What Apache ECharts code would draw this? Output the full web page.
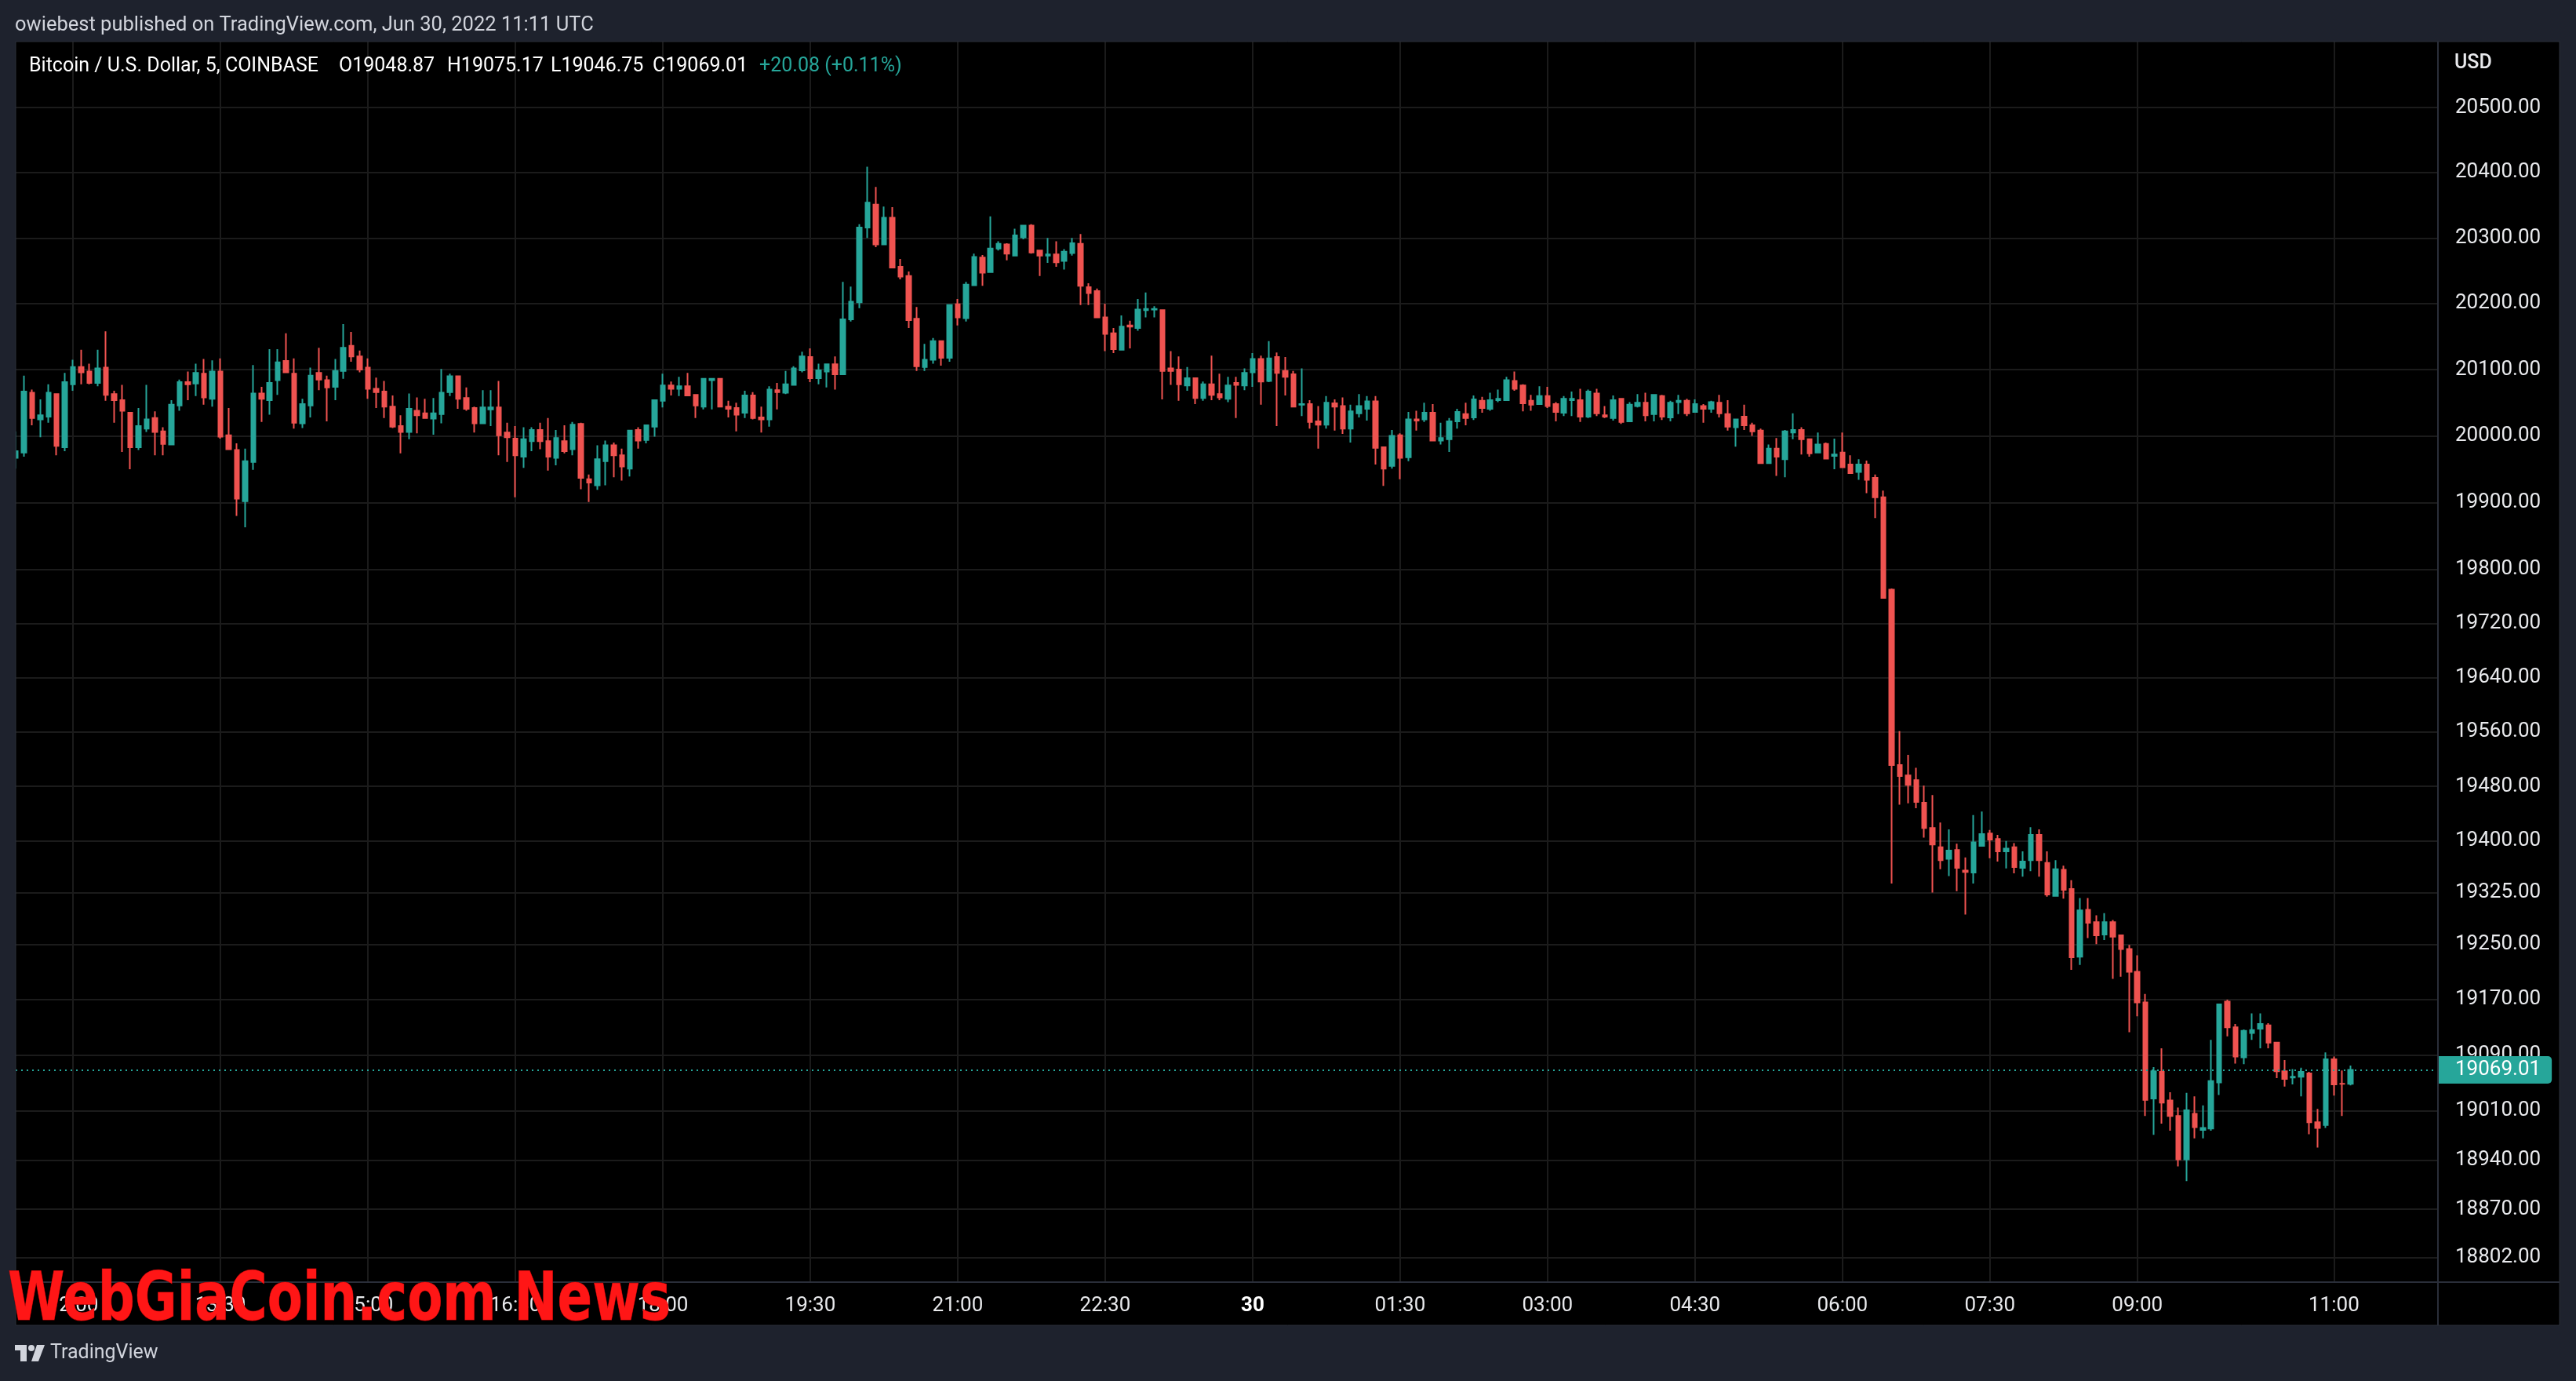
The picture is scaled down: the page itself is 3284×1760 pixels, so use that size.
<!DOCTYPE html>
<html>
<head>
<meta charset="utf-8">
<script src="https://cdn.jsdelivr.net/npm/echarts@6/dist/echarts.min.js"></script>
<style>
html,body{margin:0;padding:0;background:#000;}
#chart{width:3284px;height:1760px;}
</style>
</head>
<body>
<div id="chart"></div>
<script>
// BTC/USD 5-minute candles, Coinbase, 29 Jun 2022 11:25 UTC -> 30 Jun 2022 11:10 UTC
const firstCandle = '2022-06-29 11:25';
const candleMinutes = 5;

const opens = [
19967,19975,20065,20025,20029,20063,19983,20078,20104,20097,20080,20103,20063,20054,20035,19983,20011,20027,20007,19987,
20046,20081,20079,20094,20056,20097,20001,19979,19902,19961,20064,20054,20084,20113,20094,20019,20046,20095,20084,20074,
20098,20136,20120,20103,20071,20067,20044,20015,20006,20038,20034,20026,20033,20066,20090,20057,20042,20019,20040,20043,
20005,19996,19969,19992,20009,19992,19967,19992,19980,20018,19935,19926,19962,19986,19971,19951,20009,19994,20014,20053,
20076,20071,20075,20062,20044,20084,20086,20044,20042,20035,20061,20028,20025,20069,20065,20077,20099,20119,20087,20097,
20108,20093,20176,20202,20316,20351,20290,20331,20256,20242,20177,20104,20115,20143,20118,20199,20178,20228,20270,20248,
20284,20290,20273,20301,20319,20281,20273,20275,20265,20277,20291,20225,20219,20179,20155,20130,20167,20163,20190,20191,
20190,20102,20100,20076,20087,20057,20078,20063,20056,20080,20076,20096,20116,20083,20119,20098,20093,20047,20048,20022,
20017,20049,20045,20011,20034,20041,20052,19983,19955,20001,19968,20025,20025,20035,19993,19995,20022,20033,20028,20053,
20041,20054,20054,20083,20076,20053,20048,20060,20048,20035,20054,20054,20029,20064,20031,20027,20056,20022,20045,20050,
20033,20060,20028,20051,20053,20036,20045,20041,20050,20033,20013,20029,20016,20008,19959,19981,19965,20005,20009,19995,
19975,19988,19970,19975,19957,19946,19957,19937,19908,19770,19511,19496,19489,19456,19419,19391,19374,19387,19357,19354,
19393,19411,19403,19385,19391,19361,19372,19409,19368,19320,19358,19330,19232,19300,19282,19264,19282,19263,19243,19210,
19166,19028,19066,19025,19003,18941,19006,18983,18985,19051,19167,19130,19087,19122,19128,19133,19108,19067,19058,19059,
19064,18994,18990,19084,19049,19048.87
];
const highs = [
20007,20091,20070,20055,20078,20064,20095,20115,20130,20109,20130,20158,20068,20077,20035,20042,20077,20037,20013,20054,
20085,20097,20109,20116,20114,20117,20042,19989,19981,20107,20074,20131,20131,20155,20117,20056,20103,20133,20091,20116,
20169,20157,20129,20117,20088,20083,20061,20031,20064,20058,20056,20057,20101,20094,20090,20073,20044,20069,20069,20083,
20020,20015,20013,20013,20020,20027,20009,20016,20021,20020,19942,19986,19993,19990,19981,20008,20013,20017,20054,20094,
20082,20089,20095,20063,20086,20087,20086,20053,20050,20068,20066,20044,20075,20080,20098,20105,20127,20132,20109,20109,
20120,20233,20226,20321,20409,20378,20348,20347,20268,20249,20195,20139,20148,20143,20198,20207,20233,20276,20274,20333,
20295,20292,20314,20320,20321,20282,20300,20295,20283,20300,20306,20231,20223,20200,20163,20182,20174,20207,20217,20196,
20191,20128,20120,20104,20087,20082,20121,20094,20089,20089,20102,20125,20121,20143,20126,20119,20098,20102,20054,20045,
20060,20055,20058,20047,20063,20060,20060,19983,20009,20004,20036,20038,20050,20048,20020,20027,20041,20050,20061,20059,
20065,20070,20089,20097,20078,20062,20075,20074,20051,20060,20067,20071,20070,20071,20045,20061,20056,20051,20063,20065,
20062,20062,20053,20062,20056,20055,20048,20053,20062,20054,20025,20047,20020,20011,19987,19997,20009,20034,20013,19996,
20005,19990,19996,20005,19971,19965,19963,19942,19918,19772,19561,19526,19507,19481,19467,19427,19417,19396,19376,19438,
19443,19416,19409,19400,19397,19385,19420,19417,19385,19372,19364,19343,19317,19317,19292,19295,19285,19263,19249,19234,
19178,19073,19100,19037,19015,19036,19031,19018,19112,19164,19170,19135,19127,19150,19150,19136,19108,19083,19070,19072,
19066,19013,19094,19088,19068,19075.17
];
const lows = [
19951,19969,20016,19998,20020,19971,19977,20068,20078,20078,20075,20053,20020,19976,19950,19979,20006,19971,19971,19987,
20038,20054,20060,20047,20044,19996,19979,19880,19863,19949,20021,20032,20062,20095,20011,20012,20028,20069,20022,20054,
20086,20112,20096,20056,20042,20027,20012,19974,19995,20004,20026,20002,20019,20060,20041,20038,20005,20019,20015,19971,
19961,19908,19952,19977,19980,19948,19956,19974,19971,19920,19901,19919,19926,19938,19933,19939,19981,19989,19999,20043,
20061,20060,20060,20027,20040,20040,20043,20028,20007,20027,20025,20005,20014,20040,20063,20077,20096,20081,20078,20073,
20070,20093,20173,20193,20300,20286,20290,20255,20237,20163,20098,20098,20109,20106,20112,20167,20173,20227,20227,20248,
20281,20266,20273,20298,20276,20242,20262,20256,20252,20273,20198,20198,20179,20128,20125,20129,20132,20159,20179,20179,
20055,20077,20053,20068,20048,20053,20054,20054,20051,20027,20069,20074,20047,20081,20015,20061,20044,20030,20011,19981,
20011,20008,20003,19990,20028,20023,19957,19925,19951,19935,19962,20008,20021,19993,19987,19976,20011,20016,20024,20035,
20038,20051,20054,20068,20037,20038,20047,20042,20022,20030,20030,20021,20027,20030,20027,20023,20018,20022,20043,20022,
20022,20024,20022,20033,20030,20036,20020,20035,20028,20008,19984,20009,20000,19959,19959,19940,19938,19995,19972,19969,
19974,19965,19950,19953,19944,19934,19914,19877,19758,19338,19453,19455,19448,19405,19325,19359,19349,19327,19293,19338,
19393,19375,19370,19360,19353,19348,19356,19348,19319,19320,19316,19213,19220,19259,19250,19256,19200,19203,19123,19146,
19003,18976,18992,18982,18931,18910,18971,18971,18982,19033,19117,19078,19077,19112,19100,19100,19057,19045,19048,19031,
18977,18958,18986,19032,19003,19046.75
];
const closes = [
19977,20067,20027,20031,20065,19985,20081,20104,20096,20080,20102,20062,20054,20038,19983,20015,20025,20006,19988,20047,
20081,20078,20095,20058,20097,19999,19980,19906,19962,20064,20056,20080,20111,20096,20020,20048,20091,20085,20073,20098,
20133,20120,20100,20071,20066,20044,20014,20006,20041,20031,20027,20034,20065,20090,20056,20041,20019,20043,20043,20001,
19998,19971,19995,20009,19992,19969,19997,19977,20017,19937,19930,19965,19986,19971,19954,20008,19993,20016,20054,20076,
20071,20075,20061,20046,20086,20086,20044,20041,20032,20061,20027,20025,20070,20066,20078,20102,20120,20087,20099,20108,
20093,20176,20203,20316,20354,20290,20331,20255,20241,20175,20105,20115,20143,20118,20198,20179,20229,20271,20247,20284,
20291,20276,20304,20319,20278,20273,20275,20263,20279,20292,20227,20216,20179,20154,20131,20165,20165,20191,20192,20192,
20098,20098,20078,20087,20057,20078,20062,20058,20076,20077,20095,20116,20082,20117,20095,20089,20044,20048,20021,20017,
20050,20044,20011,20037,20045,20052,19982,19951,20000,19967,20025,20023,20035,19993,19997,20022,20036,20027,20055,20042,
20054,20056,20084,20071,20049,20047,20060,20045,20036,20056,20056,20029,20067,20034,20029,20054,20021,20047,20050,20031,
20062,20029,20050,20053,20034,20048,20041,20051,20034,20014,20025,20016,20007,19959,19981,19969,20007,20009,19995,19974,
19987,19966,19972,19953,19944,19957,19934,19908,19758,19511,19495,19482,19457,19419,19395,19372,19386,19361,19355,19398,
19410,19402,19385,19389,19362,19370,19409,19372,19322,19359,19329,19231,19299,19281,19263,19282,19261,19243,19210,19166,
19026,19067,19022,19003,18941,19011,18987,18986,19053,19163,19130,19088,19125,19126,19135,19108,19067,19056,19059,19066,
18994,18986,19084,19048,19048.93,19069.01
];

// price-scale tick labels (right axis)
const priceTicks = [20500,20400,20300,20200,20100,20000,19900,19800,19720,19640,19560,19480,19400,19325,19250,19170,19090,19010,18940,18870,18802];
// time-scale tick labels and the candle index they sit on
const timeTickIndex = [7,25,43,61,79,97,115,133,151,169,187,205,223,241,259,283];
const timeTickLabels = ['12:00','13:30','15:00','16:30','18:00','19:30','21:00','22:30','30','01:30','03:00','04:30','06:00','07:30','09:00','11:00'];

const headerText = 'owiebest published on TradingView.com, Jun 30, 2022 11:11 UTC';
const symbolText = 'Bitcoin / U.S. Dollar, 5, COINBASE';
const watermarkText = 'WebGiaCoin.com News';

const UP = '#26a69a', DOWN = '#ef5350', NAVY = '#1e222d', GRID = '#1b1b1b', DIV = '#2a2e39';
const FONT = 'Roboto';

const n = closes.length;
const seriesData = opens.map((o, i) => [i, o, closes[i], lows[i], highs[i]]);
const lastO = opens[n-1], lastH = highs[n-1], lastL = lows[n-1], lastC = closes[n-1];
const chg = lastC - closes[n-2];
const chgPct = chg / closes[n-2] * 100;
const chgText = (chg >= 0 ? '+' : '') + chg.toFixed(2) + ' (' + (chg >= 0 ? '+' : '') + chgPct.toFixed(2) + '%)';
const tickLabelMap = {};
timeTickIndex.forEach((v, i) => { tickLabelMap[v] = timeTickLabels[i]; });

// fit watermark width
const mctx = document.createElement('canvas').getContext('2d');
mctx.font = 'bold 86px "DejaVu Sans"';
const wmScale = 845 / mctx.measureText(watermarkText).width;

const chart = echarts.init(document.getElementById('chart'), null, {width: 3284, height: 1760});
const txt = (x, y, text, size, color, extra) => Object.assign({
  type: 'text', x: x, y: y, silent: true, z: 50,
  style: Object.assign({text: text, fontSize: size, fontFamily: FONT, fill: color, verticalAlign: 'middle', align: 'left'}, extra || {})
});
const ohlcRich = {
  w: {fontSize: 25, fontFamily: FONT, color: '#ffffff'},
  g: {fontSize: 25, fontFamily: FONT, color: UP}
};

chart.setOption({
  animation: false,
  backgroundColor: '#000000',
  grid: {left: 20, top: 53, right: 176, bottom: 126, show: false},
  xAxis: {
    type: 'value', min: 0, max: 295.7,
    axisLine: {show: false},
    axisTick: {show: false, customValues: timeTickIndex},
    splitLine: {show: true, lineStyle: {color: GRID, width: 2}},
    axisLabel: {
      customValues: timeTickIndex,
      margin: 17,
      fontSize: 26, fontFamily: FONT, color: '#e8e9ec',
      formatter: v => {
        const k = Math.round(v);
        const s = tickLabelMap[k] || '';
        return s === '30' ? '{b|30}' : s;
      },
      rich: {b: {fontSize: 26, fontFamily: FONT, fontWeight: 'bold', color: '#ffffff'}}
    }
  },
  yAxis: {
    type: 'log', logBase: 10, min: 18767, max: 20602, position: 'right',
    axisLine: {show: false},
    axisTick: {show: false, customValues: priceTicks},
    splitLine: {show: true, lineStyle: {color: GRID, width: 2}},
    axisLabel: {
      customValues: priceTicks,
      margin: 22,
      fontSize: 26, fontFamily: FONT, color: '#e8e9ec',
      formatter: v => Number(v).toFixed(2)
    }
  },
  series: [{
    type: 'candlestick',
    data: seriesData,
    barWidth: 6,
    itemStyle: {color: UP, color0: DOWN, borderColor: UP, borderColor0: DOWN, borderWidth: 2},
    markLine: {
      silent: true, symbol: ['none', 'none'], animation: false,
      data: [{yAxis: lastC}],
      lineStyle: {color: UP, type: [2, 5], width: 2},
      label: {
        show: true, position: 'end', distance: 0,
        formatter: lastC.toFixed(2),
        fontSize: 26, fontFamily: FONT, color: '#ffffff',
        backgroundColor: UP, padding: [5, 14, 4, 22], borderRadius: [0, 5, 5, 0]
      }
    }
  }],
  graphic: [
    {type: 'rect', silent: true, z: 40, shape: {x: 0, y: 0, width: 3284, height: 53}, style: {fill: NAVY}},
    {type: 'rect', silent: true, z: 40, shape: {x: 0, y: 1689, width: 3284, height: 71}, style: {fill: NAVY}},
    {type: 'rect', silent: true, z: 40, shape: {x: 0, y: 0, width: 20, height: 1760}, style: {fill: NAVY}},
    {type: 'rect', silent: true, z: 40, shape: {x: 3263, y: 0, width: 21, height: 1760}, style: {fill: NAVY}},
    {type: 'line', silent: true, z: 41, shape: {x1: 3108, y1: 53, x2: 3108, y2: 1689}, style: {stroke: DIV, lineWidth: 2}},
    {type: 'line', silent: true, z: 41, shape: {x1: 20, y1: 1634, x2: 3263, y2: 1634}, style: {stroke: DIV, lineWidth: 2}},
    {type: 'rect', silent: true, z: 41, shape: {x: 20, y: 53, width: 3243, height: 1636}, style: {fill: 'none', stroke: DIV, lineWidth: 1}},
    txt(19, 33, headerText, 25.5, '#d1d4dc'),
    txt(37, 85, symbolText, 25, '#ffffff'),
    txt(432, 85, '', 25, '#fff', {text: '{w|O}{g|' + lastO.toFixed(2) + '}', rich: ohlcRich}),
    txt(570, 85, '', 25, '#fff', {text: '{w|H}{g|' + lastH.toFixed(2) + '}', rich: ohlcRich}),
    txt(702, 85, '', 25, '#fff', {text: '{w|L}{g|' + lastL.toFixed(2) + '}', rich: ohlcRich}),
    txt(832, 85, '', 25, '#fff', {text: '{w|C}{g|' + lastC.toFixed(2) + '}', rich: ohlcRich}),
    txt(968, 85, chgText, 25, UP),
    txt(3129, 81, 'USD', 25, '#e8e9ec', {fontWeight: 500}),
    // TradingView logo
    {type: 'rect', silent: true, z: 50, shape: {x: 19, y: 1714, width: 15, height: 7}, style: {fill: '#d1d4dc'}},
    {type: 'rect', silent: true, z: 50, shape: {x: 26, y: 1714, width: 8, height: 21}, style: {fill: '#d1d4dc'}},
    {type: 'circle', silent: true, z: 50, shape: {cx: 40, cy: 1718, r: 4}, style: {fill: '#d1d4dc'}},
    {type: 'polygon', silent: true, z: 50, shape: {points: [[47, 1714], [57, 1714], [49, 1735], [40, 1735]]}, style: {fill: '#d1d4dc'}},
    txt(64, 1725, 'TradingView', 25, '#d1d4dc'),
    // watermark
    {type: 'text', silent: true, z: 100, x: 10, y: 1660, scaleX: wmScale,
     style: {text: watermarkText, fontSize: 86, fontWeight: 'bold', fontFamily: 'DejaVu Sans',
             fill: '#ff1616', stroke: '#b30000', lineWidth: 1, verticalAlign: 'middle', align: 'left'}}
  ]
});
</script>
</body>
</html>
